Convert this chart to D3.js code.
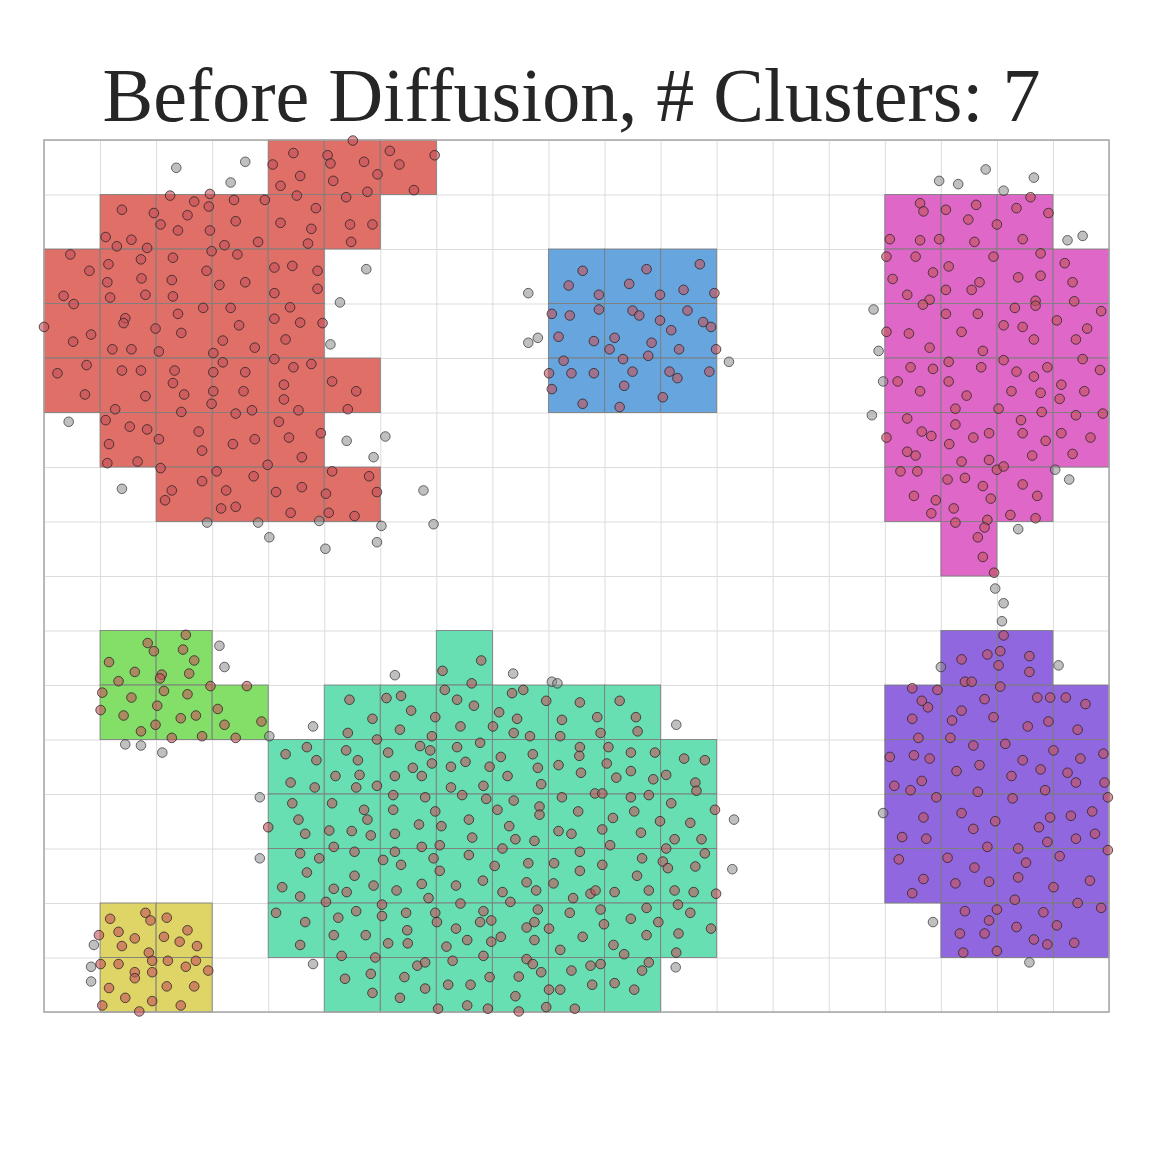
<!DOCTYPE html>
<html>
<head>
<meta charset="utf-8">
<script src="https://cdn.jsdelivr.net/npm/d3@7"></script>
<style>
  html, body { margin: 0; padding: 0; background: #fff; }
</style>
</head>
<body>
<div id="chart"></div>
<script>
(function () {

  const title = 'Before Diffusion, # Clusters: 7';
  const nCols = 19, nRows = 16;

  // hls palette, one colour per cluster
  const clusterColors = ['#db5f57', '#dbd057', '#75db57', '#57dbab', '#579bdb', '#8557db', '#db57c1'];

  // cells of each cluster as [row, firstCol, lastCol], rows counted from the bottom
  const redCells = [[15, 4, 6], [14, 1, 5], [13, 0, 4], [12, 0, 4], [11, 0, 5], [10, 1, 4], [9, 2, 5]];
  const yellowCells = [[1, 1, 2], [0, 1, 2]];
  const greenCells = [[6, 1, 2], [5, 1, 3]];
  const tealCells = [[6, 7, 7], [5, 5, 10], [4, 4, 11], [3, 4, 11], [2, 4, 11], [1, 4, 11], [0, 5, 10]];
  const blueCells = [[13, 9, 11], [12, 9, 11], [11, 9, 11]];
  const purpleCells = [[6, 16, 17], [5, 15, 18], [4, 15, 18], [3, 15, 18], [2, 15, 18], [1, 16, 18]];
  const magentaCells = [[14, 15, 17], [13, 15, 18], [12, 15, 18], [11, 15, 18], [10, 15, 18], [9, 15, 17], [8, 16, 16]];

  // points that belong to a cluster, [x, y] in cell units
  const redPoints = [
    [4.45,15.76],[4.08,15.55],[4.22,15.16],[4.57,15.34],[5.06,15.72],[5.11,15.57],[5.16,15.25],[5.51,15.99],[5.71,15.60],[5.95,15.37],[5.77,15.05],[6.17,15.80],[6.34,15.55],[6.60,15.08],[6.97,15.72],
    [2.25,14.98],[2.96,15.01],[2.68,14.87],[2.94,14.78],[3.39,14.90],[3.94,14.90],[4.51,14.98],[4.85,14.75],[5.39,14.95],[1.39,14.72],[1.96,14.66],[2.56,14.62],[2.08,14.45],[2.39,14.34],[2.96,14.34],[3.42,14.51],[4.22,14.48],[4.77,14.37],[5.46,14.45],[5.86,14.45],[1.10,14.22],[1.30,14.05],[1.56,14.17],[1.84,14.02],[3.22,14.07],[3.82,14.13],[4.71,14.10],[5.48,14.13],
    [0.47,13.90],[0.81,13.60],[1.15,13.72],[1.13,13.39],[1.18,13.11],[1.73,13.81],[1.74,13.46],[1.81,13.16],[2.30,13.84],[2.28,13.43],[2.30,13.13],[2.99,13.96],[2.90,13.60],[3.13,13.34],[3.45,13.90],[3.59,13.39],[4.11,13.66],[4.43,13.69],[4.88,13.60],[4.88,13.27],[4.11,13.19],[0.35,13.14],[0.53,12.99],
    [0.00,12.57],[0.84,12.43],[1.45,12.73],[1.42,12.64],[1.99,12.54],[2.39,12.81],[2.45,12.46],[2.84,12.92],[3.33,12.92],[3.48,12.60],[4.11,12.72],[4.39,12.93],[4.57,12.65],[4.97,12.64],[4.31,12.34],[3.19,12.32],[0.52,12.30],[1.22,12.16],[1.56,12.16],[2.05,12.12],[3.02,12.09],[3.76,12.19],
    [0.24,11.72],[0.76,11.87],[0.73,11.33],[1.39,11.77],[1.73,11.77],[1.81,11.30],[1.27,11.06],[2.33,11.77],[2.30,11.54],[2.50,11.33],[2.45,11.01],[3.19,11.92],[3.02,11.74],[3.02,11.39],[2.99,11.16],[3.59,11.74],[3.56,11.39],[3.42,10.98],[3.71,11.04],[4.11,11.98],[4.45,11.83],[4.77,11.89],[4.28,11.51],[4.28,11.24],[4.54,11.04],[5.14,11.57],[5.57,11.39],[5.42,11.06],
    [1.10,10.86],[1.53,10.74],[1.84,10.69],[1.16,10.42],[1.13,10.07],[1.67,10.10],[2.05,10.51],[2.76,10.65],[2.82,10.30],[3.37,10.42],[3.76,10.51],[4.19,10.83],[4.37,10.54],[4.60,10.18],[4.94,10.62],[3.99,10.04],
    [2.08,9.98],[3.08,9.92],[2.82,9.74],[2.28,9.57],[2.16,9.39],[3.25,9.57],[3.16,9.24],[3.42,9.27],[3.74,9.83],[4.14,9.54],[4.60,9.63],[4.40,9.16],[5.14,9.92],[5.03,9.51],[5.08,9.16],[5.80,9.83],[5.94,9.54],[5.54,9.10]
  ];
  const bluePoints = [
    [9.61,13.60],[9.36,13.33],[9.90,13.16],[10.75,13.63],[10.44,13.36],[10.99,13.16],[11.41,13.25],[11.70,13.72],[11.96,13.19],[9.06,12.81],[9.38,12.78],[9.90,12.89],[10.50,12.87],[10.62,12.78],
    [10.99,12.69],[11.48,12.87],[11.19,12.51],[11.76,12.66],[11.90,12.57],[9.18,12.39],[9.81,12.31],[10.18,12.37],[10.09,12.16],[10.84,12.28],[11.33,12.16],[11.99,12.16],[10.78,12.04],[10.33,11.98],
    [9.27,11.95],[9.01,11.72],[9.41,11.72],[9.81,11.72],[10.50,11.75],[11.16,11.75],[11.30,11.63],[11.87,11.75],[9.06,11.43],[10.35,11.49],[11.04,11.28],[9.61,11.16],[10.27,11.10]
  ];
  const magentaPoints = [
    [15.63,14.84],[15.69,14.69],[16.09,14.72],[16.63,14.81],[16.49,14.54],[17.00,14.45],[17.35,14.75],[17.60,14.95],[17.92,14.66],[15.09,14.18],[15.63,14.16],[15.97,14.18],[16.60,14.13],[17.46,14.18],
    [15.03,13.86],[15.55,13.86],[16.94,13.86],[17.78,13.92],[18.21,13.74],[16.14,13.68],[15.86,13.57],[15.14,13.45],[17.38,13.48],[17.78,13.51],[18.35,13.39],[16.69,13.39],[16.55,13.25],[16.09,13.25],[15.40,13.16],[15.80,13.07],[15.68,12.98],[17.69,13.05],[17.69,12.96],[18.38,13.04],[17.32,12.92],
    [16.09,12.81],[16.66,12.81],[18.86,12.86],[15.03,12.48],[15.43,12.45],[16.37,12.48],[17.12,12.60],[17.46,12.57],[18.07,12.69],[18.61,12.54],[17.66,12.34],[18.41,12.34],[15.80,12.19],[16.75,12.13],
    [16.14,11.93],[15.46,11.83],[15.86,11.80],[16.72,11.83],[17.12,11.96],[17.35,11.75],[17.66,11.66],[17.90,11.83],[18.53,11.98],[18.84,11.78],[15.23,11.57],[16.14,11.57],
    [15.63,11.39],[16.46,11.31],[17.26,11.39],[17.78,11.36],[18.15,11.51],[18.12,11.25],[18.56,11.39],[16.26,11.07],[17.03,11.07],[17.80,11.01],
    [15.40,10.89],[15.66,10.65],[15.83,10.57],[15.03,10.54],[15.40,10.28],[15.55,10.21],[16.26,10.78],[16.15,10.42],[16.58,10.54],[16.86,10.62],[16.37,10.10],[16.86,10.13],[17.43,10.86],[17.46,10.62],[17.87,10.48],[17.63,10.21],[18.15,10.62],[18.41,10.95],[18.89,10.98],[18.67,10.54],[18.35,10.24],[17.00,9.95],[17.12,10.01],
    [15.28,9.92],[15.58,9.92],[16.12,9.77],[16.43,9.80],[16.75,9.65],[16.89,9.42],[17.46,9.68],[17.72,9.47],[15.52,9.47],[15.91,9.39],[15.83,9.15],[16.23,9.24],[16.26,8.98],[16.83,9.03],[16.78,8.89],[16.66,8.71],[17.24,9.12],[17.69,9.06],[16.75,8.35],[16.95,8.06]
  ];
  const greenPoints = [
    [2.53,6.92],[1.85,6.77],[1.96,6.62],[2.48,6.65],[2.68,6.45],[1.16,6.42],[1.62,6.24],[2.10,6.19],[2.07,6.12],[2.59,6.21],[1.33,6.07],[2.97,5.98],[3.62,5.98],[1.04,5.86],[1.56,5.77],
    [2.14,5.89],[2.56,5.83],[2.02,5.62],[1.01,5.54],[1.42,5.44],[2.44,5.39],[2.71,5.44],[3.10,5.56],[1.99,5.27],[1.73,5.15],[3.22,5.27],[3.88,5.33],[2.28,5.03],[2.82,5.06],[3.42,5.03]
  ];
  const yellowPoints = [
    [1.81,1.82],[1.90,1.68],[1.18,1.71],[2.19,1.73],[1.33,1.47],[1.62,1.35],[0.98,1.41],[1.39,1.21],[2.14,1.38],[2.42,1.29],[2.56,1.50],[2.73,1.21],[1.87,1.09],[1.93,0.94],[2.21,0.94],[1.01,0.88],
    [1.33,0.88],[2.53,0.83],[2.71,0.94],[2.93,0.76],[1.62,0.73],[1.62,0.62],[1.93,0.73],[1.16,0.44],[2.19,0.47],[2.68,0.47],[1.45,0.26],[1.93,0.20],[1.04,0.12],[2.44,0.12],[1.70,0.01]
  ];
  const tealPoints = [
    [7.80,6.45],[7.11,6.26],[7.63,6.03],
    [7.15,5.91],[7.37,5.73],[7.67,5.62],[5.45,5.73],[6.11,5.76],[6.37,5.80],[6.55,5.53],[5.86,5.38],[6.98,5.41],[5.42,5.12],[5.94,5.00],[6.35,5.18],[6.92,5.06],[7.43,5.24],
    [8.35,5.85],[8.55,5.91],[8.96,5.71],[9.56,5.68],[10.27,5.71],[8.12,5.50],[8.44,5.38],[8.01,5.24],[9.24,5.36],[9.87,5.41],[10.56,5.41],[8.38,5.12],[8.67,5.06],[9.21,5.06],[9.93,5.12],[10.59,5.15],
    [4.31,4.73],[4.69,4.86],[4.86,4.62],[5.39,4.80],[5.60,4.62],[6.14,4.76],[6.71,4.88],[6.89,4.80],[6.92,4.56],[6.58,4.48],[6.74,4.33],[7.37,4.86],[7.78,4.94],[7.52,4.59],[7.26,4.50],[7.95,4.50],
    [4.40,4.21],[4.83,4.12],[5.20,4.33],[5.63,4.35],[5.57,4.12],[5.94,4.15],[6.26,4.33],[7.26,4.12],[7.84,4.15],
    [9.56,4.86],[9.55,4.70],[10.07,4.86],[8.15,4.68],[8.72,4.73],[8.81,4.48],[9.18,4.53],[10.04,4.56],[10.47,4.76],[10.90,4.76],[11.42,4.65],[11.79,4.62],[8.27,4.33],[8.87,4.18],[9.58,4.39],
    [10.21,4.30],[10.47,4.42],[10.87,4.27],[11.10,4.35],[11.62,4.21],[11.64,4.06],
    [6.23,3.98],[6.80,3.94],[7.46,3.98],[7.89,3.91],[4.43,3.83],[5.14,3.83],[5.71,3.71],[6.23,3.71],[6.98,3.68],[4.54,3.53],[5.77,3.53],[7.58,3.53],
    [9.24,3.94],[9.83,4.01],[9.96,4.01],[10.47,3.94],[10.79,3.98],[8.38,3.88],[8.09,3.71],[8.84,3.77],[8.84,3.62],[9.53,3.68],[10.53,3.68],[11.19,3.83],[11.97,3.71],[10.15,3.56],[10.99,3.50],[11.53,3.47],
    [4.00,3.39],[4.66,3.27],[5.09,3.33],[5.49,3.32],[5.83,3.24],[6.26,3.27],[6.69,3.44],[7.09,3.41],[7.64,3.20],[7.06,3.06],[6.74,3.03],[6.26,2.94],[5.54,2.94],[5.17,3.03],[4.57,2.91],[4.91,2.82],
    [6.05,2.79],[6.37,2.70],[6.95,2.82],[7.58,2.88],[4.69,2.56],[5.54,2.50],[7.06,2.59],[4.25,2.29],[4.57,2.12],[5.17,2.26],[5.40,2.20],[5.03,2.02],[5.88,2.32],[6.29,2.23],[6.74,2.35],[6.86,2.09],
    [7.35,2.32],[7.43,1.99],[7.83,2.41],
    [8.30,3.41],[8.41,3.17],[8.75,3.14],[9.18,3.32],[9.41,3.27],[9.96,3.35],[10.65,3.29],[10.10,3.06],[11.25,3.17],[11.73,3.17],[8.18,3.00],[11.10,3.00],[9.56,2.94],[11.79,2.91],[8.04,2.68],
    [8.64,2.73],[9.10,2.73],[9.96,2.70],[10.67,2.82],[11.04,2.76],[11.13,2.64],[11.62,2.67],[9.56,2.59],[10.58,2.50],[8.61,2.38],[9.09,2.36],[8.18,2.20],[8.78,2.23],[8.32,2.02],[9.44,2.09],
    [9.75,2.17],[9.84,2.23],[10.18,2.20],[10.79,2.23],[11.25,2.23],[11.59,2.20],[11.99,2.17],
    [4.14,1.82],[4.66,1.65],[5.25,1.73],[5.57,1.85],[6.03,1.97],[6.03,1.76],[6.46,1.82],[6.98,1.82],[7.01,1.65],[6.48,1.50],[7.35,1.53],[7.55,1.32],[7.84,1.85],[7.78,1.65],[7.98,1.68],[7.98,1.29],
    [4.57,1.23],[5.17,1.41],[5.74,1.41],[6.14,1.26],[6.49,1.26],[7.18,1.20],
    [8.81,1.88],[9.38,1.82],[9.93,1.88],[10.75,1.91],[11.31,1.97],[11.53,1.82],[8.61,1.55],[8.75,1.65],[9.01,1.53],[9.99,1.61],[10.47,1.71],[10.96,1.65],[8.15,1.38],[8.75,1.32],[9.61,1.38],
    [10.75,1.41],[11.32,1.44],[11.90,1.53],[9.21,1.14],[10.16,1.23],[10.35,1.06],[11.28,1.09],
    [5.31,1.03],[5.91,1.00],[6.66,0.85],[6.80,0.91],[7.29,0.94],[7.84,1.03],[5.37,0.61],[5.83,0.70],[6.43,0.64],[6.80,0.43],[7.21,0.50],[7.61,0.50],[7.95,0.64],[5.86,0.35],[6.35,0.26],
    [7.03,0.06],[7.55,0.12],[7.92,0.06],
    [8.61,0.97],[8.72,0.88],[8.87,0.73],[9.41,0.76],[9.75,0.85],[9.93,0.88],[10.79,0.91],[10.67,0.76],[8.47,0.65],[9.78,0.50],[10.18,0.53],[9.01,0.41],[9.21,0.41],[10.53,0.41],[8.41,0.29],
    [8.96,0.09],[9.47,0.06],[8.47,0.01]
  ];
  const purplePoints = [
    [17.12,6.91],[16.37,6.47],[16.83,6.56],[17.06,6.62],[17.03,6.36],[17.58,6.53],[17.58,6.24],[16.43,6.06],[16.55,6.06],
    [17.06,5.97],[15.49,5.94],[15.94,5.91],[15.66,5.71],[15.77,5.59],[15.49,5.38],[16.37,5.53],[16.20,5.35],[16.78,5.74],[16.94,5.41],[17.72,5.77],[17.95,5.77],[18.23,5.77],[18.58,5.65],
    [17.55,5.24],[17.92,5.33],[18.44,5.18],[15.60,5.03],[16.17,5.03],
    [16.58,4.89],[17.15,4.92],[18.01,4.80],[18.90,4.74],[15.09,4.68],[15.52,4.71],[15.80,4.65],[16.69,4.53],[16.28,4.42],[17.46,4.62],[17.78,4.45],[18.49,4.65],[18.26,4.39],[17.26,4.33],
    [15.17,4.15],[15.46,4.07],[15.66,4.24],[15.92,3.94],[16.66,4.04],[17.28,3.92],[17.86,4.07],[18.41,4.21],[18.92,4.21],[18.98,3.94],
    [16.37,3.65],[15.69,3.57],[16.97,3.50],[16.58,3.36],[17.95,3.57],[17.75,3.39],[18.32,3.60],[18.70,3.68],[15.31,3.21],[15.74,3.18],[17.90,3.12],[18.41,3.18],[18.75,3.27],[16.83,3.03],
    [17.38,3.00],[18.98,2.97],
    [15.25,2.80],[16.12,2.83],[16.60,2.65],[17.52,2.74],[18.12,2.86],[15.69,2.44],[16.26,2.36],[16.86,2.39],[17.38,2.47],[18.01,2.29],[18.66,2.41],[15.49,2.18],[17.32,2.06],[18.44,2.00],[18.86,1.91],
    [16.43,1.85],[17.00,1.88],[17.83,1.83],[16.86,1.68],[17.35,1.56],[18.07,1.59],[16.34,1.44],[16.78,1.44],[17.66,1.33],[17.90,1.24],[18.38,1.27],[16.40,1.09],[17.00,1.12]
  ];

  // points left outside every cluster
  const noisePoints = [
    [2.36,15.49],[3.59,15.60],[3.33,15.22],[5.75,13.63],[5.28,13.02],[5.11,12.25],[0.44,10.83],[5.40,10.48],[6.09,10.56],[5.88,10.18],[1.39,9.60],[6.77,9.57],[2.91,8.98],[3.82,8.98],
    [4.91,9.01],[4.02,8.71],[5.02,8.50],[6.02,8.92],[5.94,8.62],[6.95,8.95],
    [8.64,13.19],[8.64,12.28],[8.81,12.37],[12.22,11.93],
    [15.97,15.25],[16.31,15.19],[16.80,15.46],[17.66,15.31],[17.12,15.07],[18.26,14.16],[18.53,14.24],[14.80,12.89],[14.89,12.13],[14.97,11.57],[14.77,10.95],[18.04,9.95],[18.29,9.77],
    [17.38,8.86],[16.97,7.77],[17.12,7.50],[17.09,7.17],
    [3.13,6.72],[3.22,6.33],[1.45,4.91],[1.73,4.89],[2.11,4.76],[4.02,5.06],
    [0.89,1.23],[0.84,0.83],[0.84,0.56],
    [6.26,6.18],[4.80,5.24],[3.85,3.94],[8.37,6.21],[9.06,6.06],[9.16,6.03],[11.28,5.27],[12.31,3.53],[3.85,2.82],[4.80,0.88],[12.28,2.62],[11.27,0.82],
    [16.00,6.33],[18.10,6.36],[14.97,3.65],[15.86,1.65],[17.58,0.91]
  ];

  const clusterCells = [redCells, yellowCells, greenCells, tealCells, blueCells, purpleCells, magentaCells];
  const clusterPoints = [].concat(redPoints, yellowPoints, greenPoints, tealPoints, bluePoints, purplePoints, magentaPoints);

  const width = 1153,
    height = 1152,
    margin = { top: 140, right: 44, bottom: 140, left: 44 },
    plotWidth = width - margin.left - margin.right,
    plotHeight = height - margin.top - margin.bottom;

  const x = d3.scaleLinear().domain([0, nCols]).range([0, plotWidth]);
  const y = d3.scaleLinear().domain([0, nRows]).range([plotHeight, 0]);

  const svg = d3
    .select('#chart')
    .append('svg')
    .attr('width', width)
    .attr('height', height)
    .style('background', '#fff');

  svg
    .append('text')
    .attr('x', margin.left + plotWidth / 2 - 5)
    .attr('y', 121)
    .attr('text-anchor', 'middle')
    .attr('font-family', '"Liberation Serif", "DejaVu Serif", serif')
    .attr('font-size', 76)
    .attr('fill', '#262626')
    .text(title);

  const chart = svg
    .append('g')
    .attr('transform', `translate(${margin.left}, ${margin.top})`);

  // grid on every cell border
  const xGrid = d3.axisBottom(x).tickValues(d3.range(nCols + 1)).tickSize(-plotHeight).tickFormat('');
  const yGrid = d3.axisLeft(y).tickValues(d3.range(nRows + 1)).tickSize(-plotWidth).tickFormat('');

  chart.append('g')
    .attr('class', 'grid')
    .attr('transform', `translate(0, ${plotHeight})`)
    .call(xGrid);
  chart.append('g')
    .attr('class', 'grid')
    .call(yGrid);
  chart.selectAll('.grid .domain').remove();
  chart.selectAll('.grid line').attr('stroke', '#dcdcdc').attr('stroke-width', 1);

  // cells
  const cells = clusterCells.flatMap((spans, k) =>
    spans.flatMap(([row, c0, c1]) =>
      d3.range(c0, c1 + 1).map(col => ({ col, row, k }))
    )
  );

  chart
    .selectAll('.cell')
    .data(cells)
    .enter()
    .append('rect')
    .attr('class', 'cell')
    .attr('x', d => x(d.col))
    .attr('y', d => y(d.row + 1))
    .attr('width', d => x(d.col + 1) - x(d.col))
    .attr('height', d => y(d.row) - y(d.row + 1))
    .attr('fill', d => clusterColors[d.k])
    .attr('fill-opacity', 0.9)
    .attr('stroke', '#808080')
    .attr('stroke-opacity', 0.9)
    .attr('stroke-width', 1);

  // frame
  chart
    .append('rect')
    .attr('x', x(0))
    .attr('y', y(nRows))
    .attr('width', x(nCols) - x(0))
    .attr('height', y(0) - y(nRows))
    .attr('fill', 'none')
    .attr('stroke', '#a6a6a6')
    .attr('stroke-width', 1.5);

  chart
    .selectAll('.noise')
    .data(noisePoints)
    .enter()
    .append('circle')
    .attr('class', 'noise')
    .attr('cx', d => x(d[0]))
    .attr('cy', d => y(d[1]))
    .attr('r', 4.8)
    .attr('fill', '#8c8c8c')
    .attr('fill-opacity', 0.55)
    .attr('stroke', '#222')
    .attr('stroke-opacity', 0.65)
    .attr('stroke-width', 1);

  chart
    .selectAll('.member')
    .data(clusterPoints)
    .enter()
    .append('circle')
    .attr('class', 'member')
    .attr('cx', d => x(d[0]))
    .attr('cy', d => y(d[1]))
    .attr('r', 4.8)
    .attr('fill', '#c4525a')
    .attr('fill-opacity', 0.6)
    .attr('stroke', '#222')
    .attr('stroke-opacity', 0.75)
    .attr('stroke-width', 1);

})();
</script>
</body>
</html>
